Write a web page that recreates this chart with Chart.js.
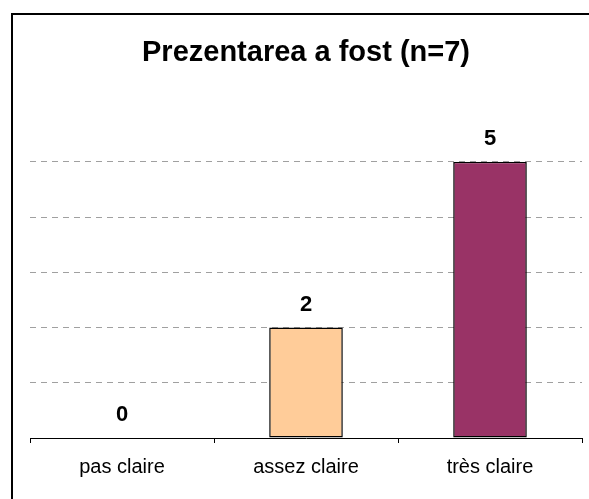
<!DOCTYPE html>
<html>
<head>
<meta charset="utf-8">
<script src="https://cdn.jsdelivr.net/npm/chart.js@4.4.1/dist/chart.umd.min.js"></script>
<style>
   html, body { margin: 0; padding: 0; background: #fff; }
   #wrap { position: relative; width: 589px; height: 499px; }
</style>
</head>
<body>
<div id="wrap"><canvas id="chart"></canvas></div>
<script>
// valeurs
var categories = ["pas claire", "assez claire", "très claire"];
var counts = [0, 2, 5];
var yTicks = [0, 1, 2, 3, 4, 5];
var titleText = "Prezentarea a fost (n=7)";

var barColors = ["#FFCC99", "#FFCC99", "#993366"];
var fontFamily = "'Liberation Sans', Arial, sans-serif";

// cadre du graphique (coin haut-gauche visible)
var framePlugin = {
   id: "frame",
   beforeDraw: function (chart) {
      var ctx = chart.ctx;
      ctx.save();
      ctx.fillStyle = "#fff";
      ctx.fillRect(0, 0, chart.width, chart.height);
      ctx.strokeStyle = "#000";
      ctx.lineWidth = 2;
      ctx.beginPath();
      ctx.moveTo(12, chart.height);
      ctx.lineTo(12, 14);
      ctx.lineTo(chart.width, 14);
      ctx.stroke();
      ctx.restore();
   }
};

// valeurs au-dessus des barres
var valueLabels = {
   id: "valueLabels",
   afterDatasetsDraw: function (chart) {
      var ctx = chart.ctx;
      var meta = chart.getDatasetMeta(0);
      ctx.save();
      ctx.font = "bold 22px " + fontFamily;
      ctx.fillStyle = "#000";
      ctx.textAlign = "center";
      ctx.textBaseline = "alphabetic";
      meta.data.forEach(function (bar, i) {
         ctx.fillText(String(counts[i]), bar.x, bar.y - 17);
      });
      ctx.restore();
   }
};

const ctx = document.getElementById("chart");
const myChart = new Chart(ctx, {
   type: "bar",
   data: {
      labels: categories,
      datasets: [{
         data: counts,
         backgroundColor: barColors,
         borderColor: "#000",
         borderWidth: 1.5,
         borderSkipped: false,
         barPercentage: 0.4,
         categoryPercentage: 1
      }]
   },
   options: {
      responsive: true,
      maintainAspectRatio: false,
      animation: false,
      layout: {
         padding: { left: 30, right: 7, top: 0, bottom: 8 }
      },
      plugins: {
         legend: { display: false },
         tooltip: { enabled: false },
         title: {
            display: true,
            text: titleText,
            color: "#000",
            font: { family: fontFamily, size: 29, weight: "bold" },
            padding: { top: 36, bottom: 91 }
         }
      },
      scales: {
         x: {
            grid: {
               display: true,
               offset: true,
               drawOnChartArea: false,
               drawTicks: true,
               tickLength: 5,
               color: "#000"
            },
            border: { display: true, color: "#000", width: 1 },
            ticks: {
               color: "#000",
               padding: 12,
               font: { family: fontFamily, size: 20 }
            }
         },
         y: {
            min: 0,
            max: yTicks[yTicks.length - 1],
            afterBuildTicks: function (axis) {
               axis.ticks = yTicks.map(function (v) { return { value: v }; });
            },
            ticks: { display: false },
            border: { display: false, dash: [6, 5] },
            grid: {
               drawTicks: false,
               color: function (c) {
                  return c.tick && c.tick.value === 0 ? "rgba(0,0,0,0)" : "#a0a0a0";
               },
               lineWidth: 1
            }
         }
      }
   },
   plugins: [framePlugin, valueLabels]
});
</script>
</body>
</html>
